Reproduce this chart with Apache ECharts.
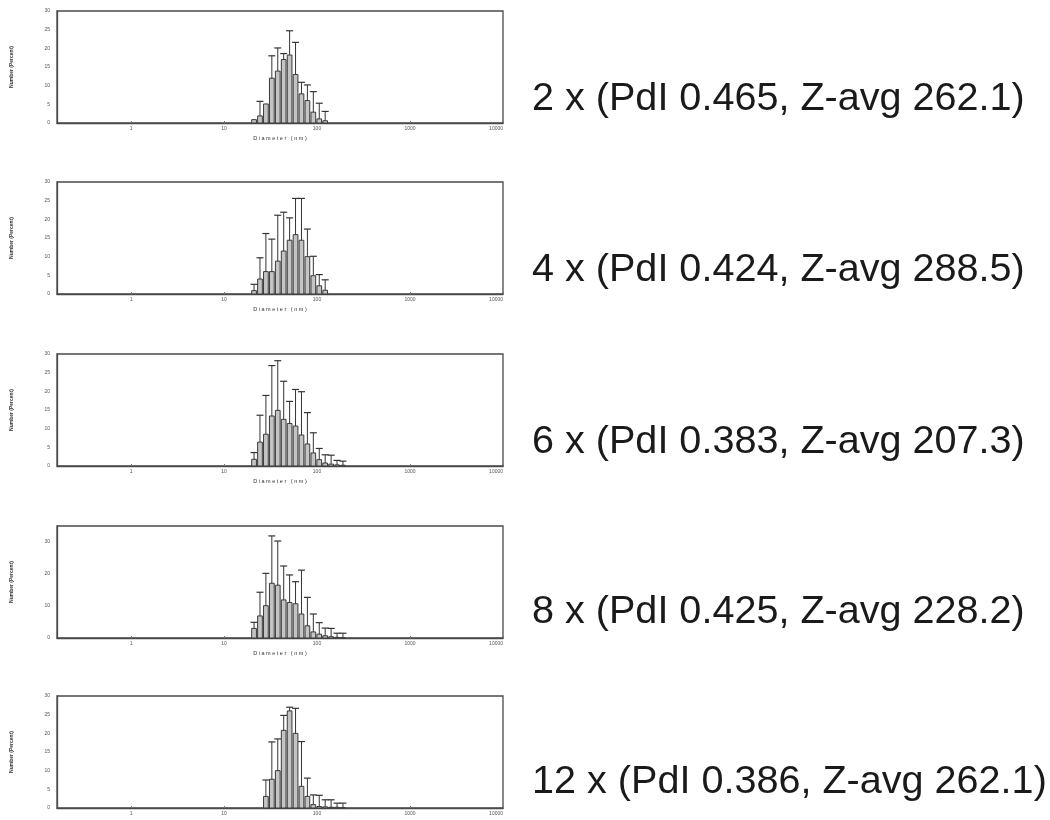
<!DOCTYPE html>
<html>
<head>
<meta charset="utf-8">
<script src="https://cdn.jsdelivr.net/npm/echarts@6/dist/echarts.min.js"></script>
<style>
html,body{margin:0;padding:0;background:#fff;}
#chart{width:1050px;height:820px;}
</style>
</head>
<body>
<div id="chart"></div>
<script>
// Size classes (nm) – log-spaced bins
const sizes = [21.04, 24.36, 28.21, 32.67, 37.84, 43.82, 50.75, 58.77, 68.06, 78.82, 91.28, 105.7, 122.4, 141.8, 164.2, 190.1];
const binRatio = 1.158;

// Panel labels
const panelLabels = [
  '2 x (PdI 0.465, Z-avg 262.1)',
  '4 x (PdI 0.424, Z-avg 288.5)',
  '6 x (PdI 0.383, Z-avg 207.3)',
  '8 x (PdI 0.425, Z-avg 228.2)',
  '12 x (PdI 0.386, Z-avg 262.1)'
];

// Number (%) means and SD per size class
const values2x  = [0.9, 1.9, 5.1, 12.0, 13.9, 17.0, 18.2, 13.0, 7.8, 6.0, 2.9, 1.1, 0.6, null, null, null];
const sd2x      = [0,   3.9, 0,   6.0,  6.2,  1.6,  6.5,  8.6,  3.1, 4.2, 5.5, 4.2, 2.5, null, null, null];
const values4x  = [0.9, 4.0, 6.0, 6.0, 8.8, 11.5, 14.4, 15.9, 14.4, 10.0, 4.9, 2.2, 1.0, null, null, null];
const sd4x      = [1.7, 5.7, 10.2, 8.7, 12.3, 10.4, 6.0, 9.7, 11.2, 7.4, 5.2, 3.0, 2.8, null, null, null];
const values6x  = [1.8, 6.4, 8.5, 13.4, 14.9, 12.5, 11.4, 10.7, 8.3, 5.9, 3.5, 1.7, 0.8, 0.5, 0.3, 0.2];
const sd6x      = [1.8, 7.2, 10.4, 13.5, 13.3, 10.2, 5.9, 9.8, 11.6, 8.4, 5.4, 3.0, 2.2, 2.4, 1.2, 1.1];
const values8x  = [3.0, 6.9, 10.1, 17.1, 16.5, 11.9, 11.1, 10.7, 7.5, 3.8, 1.9, 1.2, 0.7, 0.4, 0.2, 0.1];
const sd8x      = [1.9, 7.4, 10.1, 14.8, 13.8, 10.6, 8.6, 6.9, 13.7, 8.9, 5.6, 3.6, 2.4, 2.6, 1.3, 1.4];
const values12x = [null, null, 3.1, 7.7, 10.0, 20.8, 26.0, 20.0, 5.8, 3.1, 0.9, 0.4, 0.3, 0.2, 0.2, 0.1];
const sd12x     = [null, null, 4.4, 10.0, 8.5, 4.0, 1.0, 6.7, 12.0, 4.9, 2.6, 3.0, 1.9, 2.0, 1.1, 1.2];

// Axis settings
const xTickValues = [0, 1, 2, 3, 4];          // log10 of 1, 10, 100, 1000, 10000
const yMaxes = [30, 30, 30, 35, 30];
const yIntervals = [5, 5, 5, 10, 5];

const panelValues = [values2x, values4x, values6x, values8x, values12x];
const panelSD = [sd2x, sd4x, sd6x, sd8x, sd12x];

const gridTops = [11, 182, 354, 526, 696];
const gridH = 112;
const gridLeft = 57, gridRight = 547;
const textTops = [79, 250, 422, 592, 762];

const halfBin = Math.log10(binRatio) / 2;

function renderItem(params, api) {
  const x = api.value(0), v = api.value(1), sd = api.value(2);
  const pL = api.coord([x - halfBin, v]);
  const pR = api.coord([x + halfBin, 0]);
  const children = [];
  const left = pL[0] + 0.6, right = pR[0] - 0.6;
  children.push({
    type: 'rect',
    shape: {x: left, y: pL[1], width: right - left, height: pR[1] - pL[1]},
    style: {fill: '#c4c4c4', stroke: '#3a3a3a', lineWidth: 1}
  });
  if (sd && sd > 0) {
    const c = api.coord([x, v]);
    const t = api.coord([x, v + sd]);
    children.push({type: 'line', shape: {x1: c[0], y1: c[1], x2: c[0], y2: t[1]},
      style: {stroke: '#333', lineWidth: 1}});
    children.push({type: 'line', shape: {x1: c[0] - 3.5, y1: t[1], x2: c[0] + 3.5, y2: t[1]},
      style: {stroke: '#333', lineWidth: 1.2}});
  }
  return {type: 'group', children: children};
}

const grids = [], xAxes = [], yAxes = [], series = [], graphics = [];
for (let i = 0; i < 5; i++) {
  grids.push({left: gridLeft, right: gridRight, top: gridTops[i], height: gridH,
    show: true, borderColor: '#4a4a4a', borderWidth: 1.3, backgroundColor: '#fff'});
  xAxes.push({
    type: 'value', gridIndex: i, min: -0.796, max: 4,
    name: i < 4 ? 'D i a m e t e r   ( n m )' : '', nameLocation: 'middle', nameGap: 12,
    nameTextStyle: {fontSize: 5.5, color: '#333', fontFamily: 'Liberation Sans'},
    axisLine: {show: true, onZero: false, lineStyle: {color: '#4a4a4a', width: 1.3}},
    axisTick: {show: true, length: 2, inside: true, customValues: xTickValues, lineStyle: {color: '#777'}},
    axisLabel: {show: true, customValues: xTickValues, fontSize: 5, color: '#555', margin: 3,
      fontFamily: 'Liberation Sans', alignMaxLabel: 'right',
      formatter: v => String(Math.round(Math.pow(10, v)))},
    splitLine: {show: false}
  });
  yAxes.push({
    type: 'value', gridIndex: i, min: 0, max: yMaxes[i], interval: yIntervals[i],
    name: 'Number (Percent)', nameLocation: 'middle', nameGap: 43,
    nameTextStyle: {fontSize: 5, color: '#333', fontWeight: 'bold', fontFamily: 'Liberation Sans'},
    axisLine: {show: true, onZero: false, lineStyle: {color: '#4a4a4a', width: 1.3}},
    axisTick: {show: false},
    axisLabel: {fontSize: 5, color: '#555', margin: 7, fontFamily: 'Liberation Sans',
      showMaxLabel: yMaxes[i] % yIntervals[i] === 0},
    splitLine: {show: false}
  });
  const data = [];
  for (let k = 0; k < sizes.length; k++) {
    const v = panelValues[i][k];
    if (v === null || v === undefined) continue;
    data.push([Math.log10(sizes[k]), v, panelSD[i][k] || 0]);
  }
  series.push({type: 'custom', xAxisIndex: i, yAxisIndex: i, renderItem: renderItem,
    data: data, clip: false, silent: true});
  graphics.push({type: 'text', left: 532, top: textTops[i],
    style: {text: panelLabels[i], fontSize: 39.6, fill: '#1a1a1a',
      fontFamily: 'Liberation Sans, Arial, sans-serif'}});
}

const chart = echarts.init(document.getElementById('chart'), null, {renderer: 'canvas'});
chart.setOption({
  animation: false,
  backgroundColor: '#fff',
  grid: grids, xAxis: xAxes, yAxis: yAxes, series: series, graphic: graphics
});
</script>
</body>
</html>
